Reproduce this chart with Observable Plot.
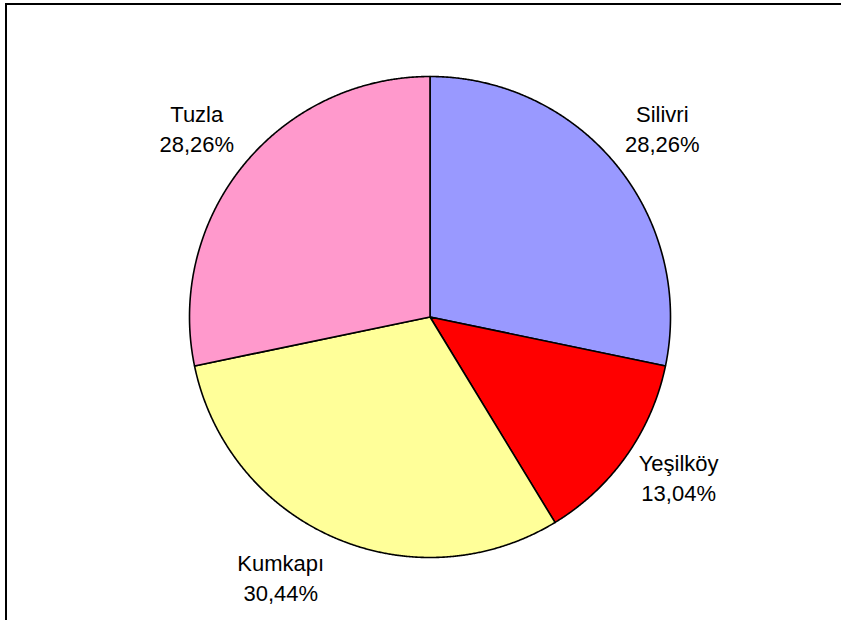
<!DOCTYPE html>
<html>
<head>
<meta charset="utf-8">
<script src="https://cdn.jsdelivr.net/npm/d3@7"></script>
<script src="https://cdn.jsdelivr.net/npm/@observablehq/plot@0.6"></script>
<style>
  html, body { margin: 0; padding: 0; background: #fff; overflow: hidden; }
  #wrap { position: relative; width: 841px; height: 620px; overflow: hidden; }
  #chart svg { display: block; }
  .hline { position: absolute; left: 5px; top: 3px; width: 900px; height: 2px; background: #000; }
  .vline { position: absolute; left: 5px; top: 3px; width: 2px; height: 700px; background: #000; }
</style>
</head>
<body>
<div id="wrap"><div id="chart"></div><div class="hline"></div><div class="vline"></div></div>
<script>
const categories = ["Silivri", "Yeşilköy", "Kumkapı", "Tuzla"];
const shares = [28.26, 13.04, 30.44, 28.26];
const labels = ["28,26%", "13,04%", "30,44%", "28,26%"];
const colors = ["#9999FF", "#FF0000", "#FFFF99", "#FF99CC"];

const arcs = d3.pie().sort(null).value(d => d)(shares);

// slice outlines in data space (unit circle), angle measured clockwise from 12 o'clock
const slicePts = [];
arcs.forEach((a, i) => {
  const name = categories[i];
  slicePts.push({name, x: 0, y: 0});
  const n = Math.max(2, Math.ceil((a.endAngle - a.startAngle) / (Math.PI / 720)));
  for (let k = 0; k <= n; ++k) {
    const t = a.startAngle + (a.endAngle - a.startAngle) * k / n;
    slicePts.push({name, x: Math.sin(t), y: Math.cos(t)});
  }
  slicePts.push({name, x: 0, y: 0});
});

const labelR = 1.245;
const labelData = arcs.map((a, i) => {
  const t = (a.startAngle + a.endAngle) / 2;
  return {name: categories[i], text: categories[i] + "\n" + labels[i], x: labelR * Math.sin(t), y: labelR * Math.cos(t)};
});
const nudge = {"Silivri": [0, -1], "Yeşilköy": [4, -13], "Kumkapı": [-30, -15], "Tuzla": [-1, -1]};

const marks = [
  Plot.line(slicePts, {x: "x", y: "y", z: "name", fill: "name", stroke: "#000", strokeWidth: 1.6, curve: "linear", strokeLinejoin: "round"})
];
labelData.forEach(d => {
  marks.push(Plot.text([d], {x: "x", y: "y", text: "text", fontSize: 22, lineHeight: 30 / 22,
    lineAnchor: "middle", textAnchor: "middle", fill: "#000",
    dx: nudge[d.name][0], dy: nudge[d.name][1]}));
});

const chart = Plot.plot({
  width: 841,
  height: 620,
  marginLeft: 189,
  marginRight: 171,
  marginTop: 76,
  marginBottom: 63,
  x: {domain: [-1, 1], axis: null},
  y: {domain: [-1, 1], axis: null},
  color: {domain: categories, range: colors},
  style: {fontFamily: "'Liberation Sans', Arial, sans-serif", background: "#fff", overflow: "visible"},
  marks
});
document.getElementById("chart").appendChild(chart);
</script>
</body>
</html>
